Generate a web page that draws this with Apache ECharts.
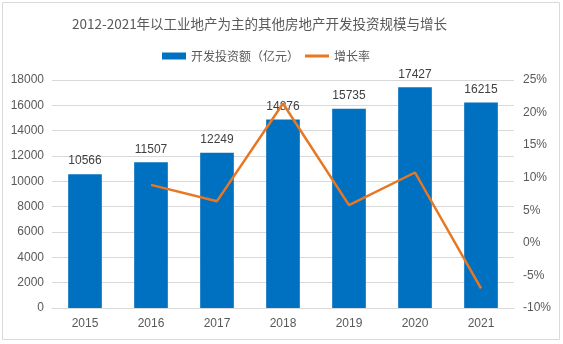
<!DOCTYPE html>
<html><head><meta charset="utf-8">
<script src="https://cdn.jsdelivr.net/npm/echarts@6/dist/echarts.min.js"></script>
<style>html,body{margin:0;padding:0;background:#fff}#c{width:563px;height:344px}</style>
</head><body><div id="c"></div>
<script>
var years = ['2015','2016','2017','2018','2019','2020','2021'];
var investment = [10566, 11507, 12249, 14876, 15735, 17427, 16215];
var growth = [null, 8.9, 6.4, 21.4, 5.8, 10.8, -7.0];
var title = '2012-2021年以工业地产为主的其他房地产开发投资规模与增长';
var barName = '开发投资额（亿元）';
var lineName = '增长率';

var font = '"Liberation Sans","Noto Sans CJK SC",sans-serif';
var chart = echarts.init(document.getElementById('c'), null, {renderer:'canvas'});
chart.setOption({
  animation:false,
  backgroundColor:'#fff',
  title:{text:title,left:67,top:12,textStyle:{fontFamily:'"Noto Sans CJK SC",sans-serif',fontSize:13.5,fontWeight:'normal',color:'#595959'}},
  legend:{top:45,left:157,itemGap:6,itemWidth:24,itemHeight:7,
    textStyle:{fontFamily:'"Noto Sans CJK SC",sans-serif',fontSize:12,color:'#595959'},
    data:[{name:barName,icon:'rect'},{name:lineName,icon:'path://M0,0 L24,0 L24,3 L0,3 Z'}]},
  grid:{left:52,right:49,top:80,bottom:36,containLabel:false},
  graphic:[{type:'rect',shape:{x:2.5,y:2.5,width:557,height:337},style:{fill:'none',stroke:'#d9d9d9',lineWidth:1},silent:true}],
  xAxis:{type:'category',data:years,
    axisLine:{lineStyle:{color:'#d9d9d9'}},axisTick:{show:false},
    axisLabel:{fontFamily:font,fontSize:12,color:'#595959',margin:10}},
  yAxis:[
    {type:'value',min:0,max:18000,interval:2000,
      axisLine:{show:false},axisTick:{show:false},
      splitLine:{lineStyle:{color:'#d9d9d9'}},
      axisLabel:{fontFamily:font,fontSize:12,color:'#595959',margin:8,formatter:function(v){return String(v);}}},
    {type:'value',min:-10,max:25,interval:5,position:'right',
      axisLine:{show:false},axisTick:{show:false},splitLine:{show:false},
      axisLabel:{fontFamily:font,fontSize:12,color:'#595959',margin:9,formatter:'{value}%'}}
  ],
  series:[
    {name:barName,type:'bar',data:investment,barWidth:'51%',itemStyle:{color:'#0070C0'},
      label:{show:true,position:'top',distance:7,fontFamily:font,fontSize:12,color:'#404040'}},
    {name:lineName,type:'line',yAxisIndex:1,data:growth,symbol:'none',
      lineStyle:{color:'#E87722',width:2.5},itemStyle:{color:'#E87722'}}
  ]
});
</script></body></html>
